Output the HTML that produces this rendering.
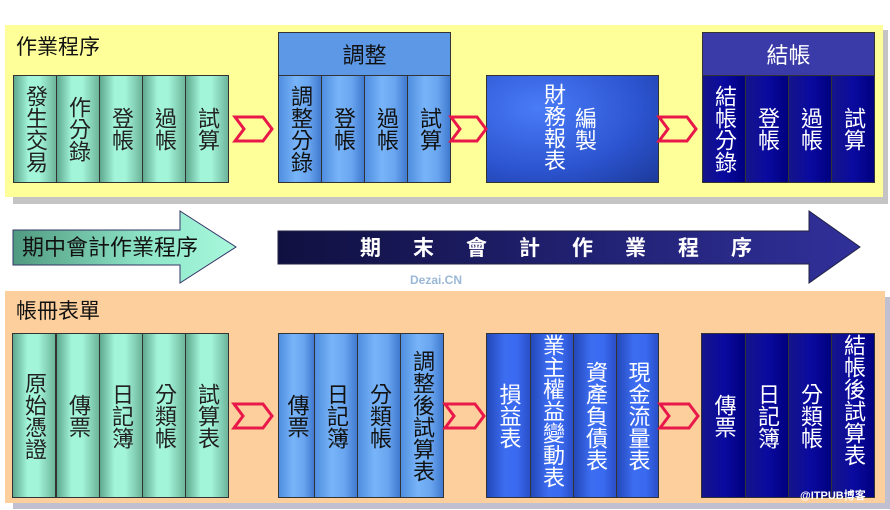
<!DOCTYPE html>
<html><head><meta charset="utf-8"><style>
body{margin:0;width:890px;height:510px;background:#fff;position:relative;overflow:hidden;font-family:"Liberation Sans","Noto Sans CJK TC",sans-serif}
div{position:absolute;box-sizing:border-box}
.col{border:1px solid #333;display:flex;align-items:center;justify-content:center;writing-mode:vertical-rl;font-size:22px;line-height:24px;letter-spacing:0}
.g{background:linear-gradient(90deg,#5ea88e 0%,#a3f5da 35%,#a3f5da 60%,#6db59b 100%);color:#222}
.lb{background:linear-gradient(90deg,#4f8ee0 0%,#78b4f8 40%,#6aa6f0 70%,#3f7ad0 100%);color:#111}
.mb{background:linear-gradient(90deg,#2348b8 0%,#3c6cf0 40%,#3a6af0 70%,#2a4fc8 100%);color:#fff}
.nv{background:linear-gradient(90deg,#15158a 0%,#0a0aa0 50%,#000080 100%);color:#fff}
.hd{border:1px solid #333;display:flex;align-items:center;justify-content:center;font-size:22px}
.t{font-size:21px;color:#111}
</style></head><body>
<div style="left:13px;top:30px;width:875px;height:174px;background:#c4c4c4"></div>
<div style="left:5px;top:25px;width:878px;height:172px;background:#ffff99"></div>
<div class="t" style="left:16px;top:31px">作業程序</div>

<div class="col g" style="left:13px;top:75px;width:44px;height:108px">發生交易</div>
<div class="col g" style="left:56px;top:75px;width:44px;height:108px">作分錄</div>
<div class="col g" style="left:99px;top:75px;width:44px;height:108px">登帳</div>
<div class="col g" style="left:142px;top:75px;width:44px;height:108px">過帳</div>
<div class="col g" style="left:185px;top:75px;width:44px;height:108px">試算</div>

<div class="hd" style="left:278px;top:32px;width:173px;height:44px;background:#5c98e6;color:#111">調整</div>
<div class="col lb" style="left:278px;top:75px;width:44px;height:108px">調整分錄</div>
<div class="col lb" style="left:321px;top:75px;width:44px;height:108px">登帳</div>
<div class="col lb" style="left:364px;top:75px;width:44px;height:108px">過帳</div>
<div class="col lb" style="left:407px;top:75px;width:44px;height:108px">試算</div>

<div style="left:486px;top:75px;width:173px;height:108px;border:1px solid #333;background:radial-gradient(ellipse at 30% 30%,#4a7cf8 0%,#2c54d0 60%,#1c3a9a 100%)"></div>
<div style="left:541px;top:83px;writing-mode:vertical-rl;font-size:22px;line-height:24px;color:#fff">財務報表</div>
<div style="left:572px;top:107px;writing-mode:vertical-rl;font-size:22px;line-height:24px;color:#fff">編製</div>

<div class="hd" style="left:702px;top:32px;width:173px;height:44px;background:#3a3aa8;color:#fff">結帳</div>
<div class="col nv" style="left:702px;top:75px;width:44px;height:108px">結帳分錄</div>
<div class="col nv" style="left:745px;top:75px;width:44px;height:108px">登帳</div>
<div class="col nv" style="left:788px;top:75px;width:44px;height:108px">過帳</div>
<div class="col nv" style="left:831px;top:75px;width:44px;height:108px">試算</div>

<div style="left:13px;top:297px;width:877px;height:212px;background:#c0c0d0"></div>
<div style="left:5px;top:291px;width:880px;height:212px;background:#fccf9c"></div>
<div class="t" style="left:16px;top:295px">帳冊表單</div>

<div class="col g" style="left:12px;top:333px;width:44px;height:165px">原始憑證</div>
<div class="col g" style="left:56px;top:333px;width:44px;height:165px">傳票</div>
<div class="col g" style="left:99px;top:333px;width:44px;height:165px">日記簿</div>
<div class="col g" style="left:142px;top:333px;width:44px;height:165px">分類帳</div>
<div class="col g" style="left:185px;top:333px;width:44px;height:165px">試算表</div>

<div class="col lb" style="left:278px;top:333px;width:37px;height:165px">傳票</div>
<div class="col lb" style="left:314px;top:333px;width:44px;height:165px">日記簿</div>
<div class="col lb" style="left:357px;top:333px;width:44px;height:165px">分類帳</div>
<div class="col lb" style="left:400px;top:333px;width:44px;height:165px">調整後試算表</div>

<div class="col mb" style="left:486px;top:333px;width:45px;height:165px">損益表</div>
<div class="col mb" style="left:530px;top:333px;width:44px;height:165px;justify-content:flex-start">業主權益變動表</div>
<div class="col mb" style="left:573px;top:333px;width:44px;height:165px">資產負債表</div>
<div class="col mb" style="left:616px;top:333px;width:43px;height:165px">現金流量表</div>

<div class="col nv" style="left:701px;top:333px;width:45px;height:165px">傳票</div>
<div class="col nv" style="left:745px;top:333px;width:44px;height:165px">日記簿</div>
<div class="col nv" style="left:788px;top:333px;width:44px;height:165px">分類帳</div>
<div class="col nv" style="left:831px;top:333px;width:44px;height:165px;justify-content:flex-start">結帳後試算表</div>
<div style="left:800px;top:487px;font-size:11px;color:#fff;font-weight:bold">@ITPUB博客</div>

<svg style="position:absolute;left:0;top:0" width="890" height="510">
<g fill="none" stroke="#e8194a" stroke-width="3">
<polygon points="235,117 263,117 272,129 263,141 235,141 244,129"/>
<polygon points="451,117 477,117 486,129 477,141 451,141 460,129"/>
<polygon points="659,117 687,117 696,129 687,141 659,141 668,129"/>
<polygon points="234,404 263,404 272,416 263,428 234,428 243,416"/>
<polygon points="445,404 475,404 484,416 475,428 445,428 454,416"/>
<polygon points="660,404 689,404 698,416 689,428 660,428 669,416"/>
</g>
<defs>
<linearGradient id="ga" x1="0" x2="1"><stop offset="0" stop-color="#4f9a80"/><stop offset="0.6" stop-color="#8fe6c8"/><stop offset="1" stop-color="#a8f8dc"/></linearGradient>
<linearGradient id="na" x1="0" x2="1"><stop offset="0" stop-color="#101040"/><stop offset="0.5" stop-color="#202070"/><stop offset="1" stop-color="#30309a"/></linearGradient>
</defs>
<polygon points="13,230 180,230 180,211 236,247 180,283 180,265 13,265" fill="url(#ga)" stroke="#336" stroke-width="1"/>
<polygon points="278,231 809,231 809,211 860,247 809,283 809,264 278,264" fill="url(#na)" stroke="#224" stroke-width="1"/>
<text x="22" y="255" font-size="22" fill="#111" font-family="Liberation Sans,Noto Sans CJK TC,sans-serif">期中會計作業程序</text>
<text x="360" y="255" font-size="21" fill="#fff" font-weight="bold" font-family="Liberation Sans,Noto Sans CJK TC,sans-serif" letter-spacing="32">期末會計作業程序</text>
<text x="410" y="284" font-size="12" fill="#9bb8d8" font-weight="bold" font-family="Liberation Sans,sans-serif">Dezai.CN</text>
</svg>
</body></html>
